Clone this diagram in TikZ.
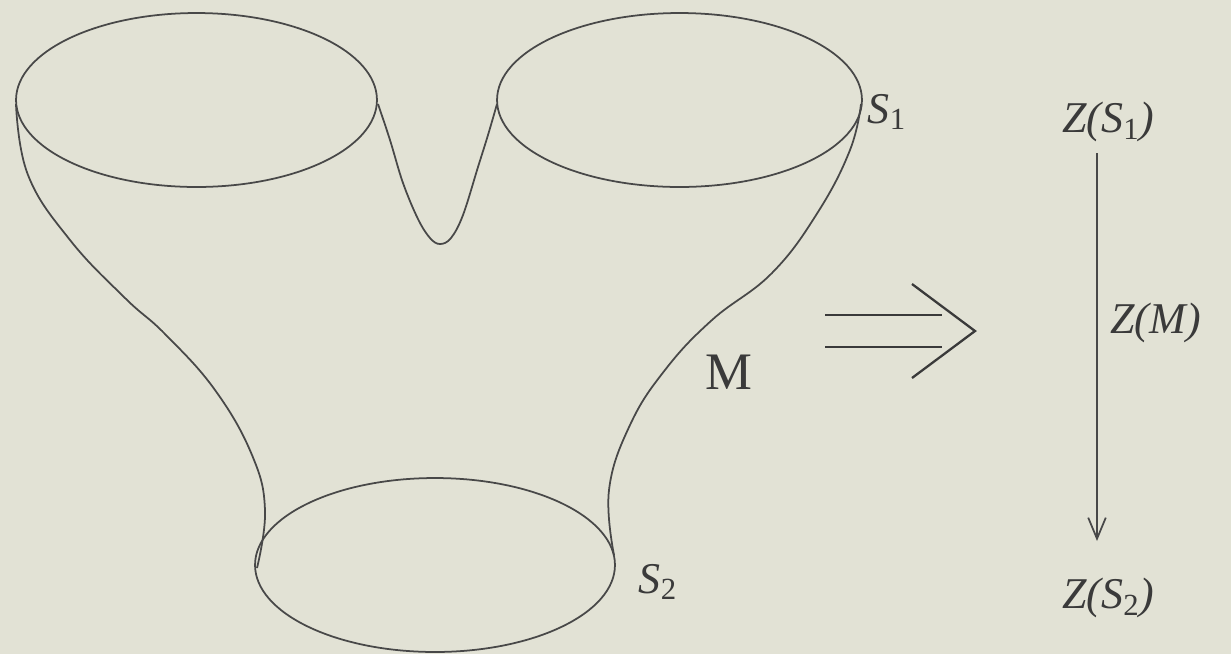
\documentclass[tikz,border=0pt]{standalone}
\usepackage{fontspec}
\setmainfont{Liberation Serif}
\usepackage{xcolor}
\usepackage{tikz}
\usetikzlibrary{positioning,arrows.meta}
\definecolor{paper}{RGB}{226,226,213}
\definecolor{ink}{RGB}{72,72,72}

\begin{document}
\begin{tikzpicture}[
    x=0.02cm, y=-0.02cm,
    surface/.style={draw=ink, line width=1pt},
    label/.style={inner sep=0pt, text=ink!80!black, font=\fontsize{25}{28}\selectfont\itshape},
    bigm/.style={inner sep=0pt, text=ink!80!black, font=\fontsize{30}{32}\selectfont},
    implies/.style={draw=ink!80!black, line width=1.3pt},
    zarrow/.style={draw=ink, line width=1pt, -{Straight Barb[length=12pt,width=10pt,line width=1pt]}}
]
    % Background
    \fill[paper] (0,0) rectangle (1231,654);

    % Boundary circles
    \draw[surface] (196.5,100) ellipse [x radius=3.61cm, y radius=1.74cm];
    \draw[surface] (679.5,100) ellipse [x radius=3.65cm, y radius=1.74cm];
    \draw[surface] (435,565) ellipse [x radius=3.6cm, y radius=1.74cm];

    % Sides of the surface
    \draw[surface] plot[smooth, tension=0.7] coordinates {(16,104) (28,175) (70,240) (125,298) (165,334) (215,390) (252,455) (265,510) (257,568)};
    \draw[surface] plot[smooth, tension=0.6] coordinates {(378,104) (390,140) (403,183) (418,219) (430,238) (440,244) (451,238) (463,215) (478,167) (488,135) (497,104)};
    \draw[surface] plot[smooth, tension=0.7] coordinates {(861,104) (850,150) (818,212) (772,273) (712,320) (665,370) (630,425) (609,490) (614,555)};

    % Nodes
    \node[label] (s1) at (887,112) {S\textsubscript{\upshape 1}};
    \node[label] (s2) at (658,582) {S\textsubscript{\upshape 2}};
    \node[bigm] (m) at (729,372) {M};
    \node[label, anchor=west] (zs1) at (1062,122) {Z(S\textsubscript{\upshape 1})};
    \node[label, anchor=west] (zm) at (1110,323) {Z(M)};
    \node[label, anchor=west] (zs2) at (1062,598) {Z(S\textsubscript{\upshape 2})};
    \coordinate (ztop) at (1097,153);
    \coordinate (zbot) at (1097,541);

    % Double arrow
    \draw[implies] (825,315) -- (942,315);
    \draw[implies] (825,347) -- (942,347);
    \draw[implies] (912,284) -- (975,331) -- (912,378);

    % Connections
    \draw[zarrow] (ztop) -- (zbot);
\end{tikzpicture}
\end{document}
